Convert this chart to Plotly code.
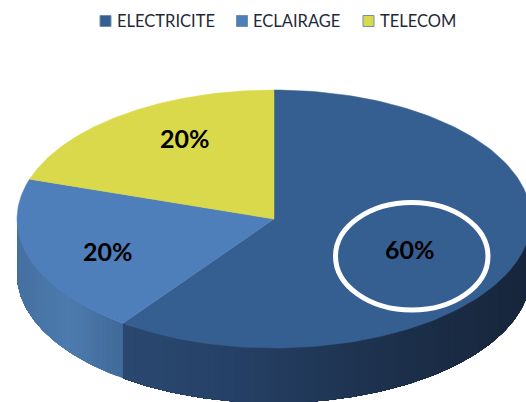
import numpy as np
import plotly.graph_objects as go

labels = ["ELECTRICITE", "ECLAIRAGE", "TELECOM"]
values = [60, 20, 20]
percent_text = ["60%", "20%", "20%"]
top_colors = ["#365F91", "#4F7FBB", "#D9D94B"]

CX, CY, RX, RY, DEPTH = 274, 219, 257, 129, 55
W, H = 526, 402


def pt(theta, dy=0.0):
    return CX + RX * np.sin(theta), CY - RY * np.cos(theta) + dy


def hex_rgb(c):
    return np.array([int(c[i:i + 2], 16) for i in (1, 3, 5)], float)


def ramp(stops, x):
    xs = [s[0] for s in stops]
    rgb = [np.interp(x, xs, [hex_rgb(s[1])[k] for s in stops]) for k in range(3)]
    return "rgb(%d,%d,%d)" % tuple(int(round(v)) for v in rgb)


total = sum(values)
edges = np.concatenate([[0], np.cumsum(values)]) / total * 2 * np.pi

wall_stops = [
    [(123, "#2A486F"), (230, "#264167"), (360, "#1E3350"), (530, "#16253A")],
    [(17, "#4570A0"), (70, "#4D7BAE"), (123, "#3F6A99")],
]

fig = go.Figure()

# Side wall, built from the slice angles; each strip runs on to the end of
# its slice and the next one paints over it, so no seams show.
for i, stops in enumerate(wall_stops):
    a0, a1 = edges[i], edges[i + 1]
    lo, hi = max(a0, np.pi / 2), min(a1, 3 * np.pi / 2)
    steps = max(int((hi - lo) / np.radians(1.5)), 1)
    grid = np.linspace(lo, hi, steps + 1)
    for s in range(steps):
        th = np.linspace(grid[s], hi, max(4, (steps - s) * 2))
        xt, yt = pt(th)
        xb, yb = pt(th[::-1], DEPTH)
        col = ramp(stops, float(pt((grid[s] + grid[s + 1]) / 2)[0]))
        fig.add_trace(go.Scatter(
            x=np.concatenate([xt, xb, xt[:1]]), y=np.concatenate([yt, yb, yt[:1]]),
            mode="lines", fill="toself", fillcolor=col,
            line=dict(width=0), showlegend=False, hoverinfo="skip"))

# Top faces
for i, lab in enumerate(labels):
    th = np.linspace(edges[i], edges[i + 1], 160)
    xs, ys = pt(th)
    fig.add_trace(go.Scatter(
        x=np.concatenate([[CX], xs, [CX]]), y=np.concatenate([[CY], ys, [CY]]),
        mode="lines", fill="toself", fillcolor=top_colors[i],
        line=dict(color=top_colors[i], width=0.5), showlegend=False, hoverinfo="skip"))

# Legend row
swatch_x = [105.5, 242, 368.5]
for i, lab in enumerate(labels):
    fig.add_trace(go.Scatter(
        x=[swatch_x[i]], y=[21], mode="markers", name=lab, showlegend=False,
        marker=dict(symbol="square", size=11, color=top_colors[i],
                    line=dict(color="#6F8FB0", width=1))))
    fig.add_annotation(x=swatch_x[i] + 9, y=21, text=lab, showarrow=False, xanchor="left",
                       font=dict(family="Lato", size=16.5, color="#1F2A38"))

for txt, x, y in zip(percent_text, (410, 108, 185), (249, 250.5, 138)):
    fig.add_annotation(x=x, y=y, text=txt, showarrow=False,
                       font=dict(family="Lato", size=25, color="#000000", weight="bold"))

fig.add_shape(type="circle", x0=335.5, x1=488, y0=202.5, y1=310,
              line=dict(color="#FFFFFF", width=5))

fig.update_layout(
    width=W, height=H, margin=dict(l=0, r=0, t=0, b=0),
    paper_bgcolor="#FFFFFF", plot_bgcolor="#FFFFFF",
    showlegend=False,
    xaxis=dict(range=[0, W], visible=False, fixedrange=True),
    yaxis=dict(range=[H, 0], visible=False, fixedrange=True),
)
fig.write_html("out.html", config=dict(displayModeBar=False),
               post_script="document.body.style.margin='0';")
